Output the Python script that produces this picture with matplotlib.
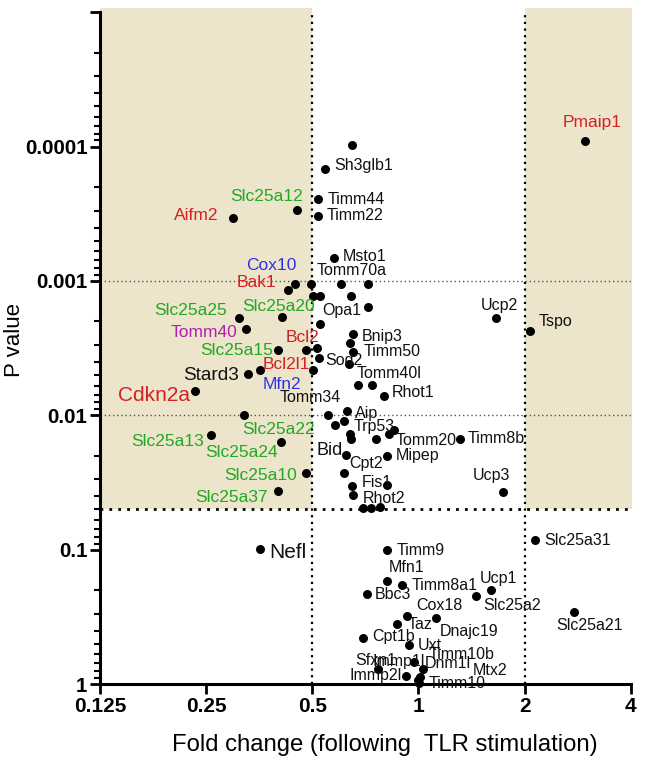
import numpy as np
import matplotlib
matplotlib.use("Agg")
import matplotlib.pyplot as plt

plt.rcParams['font.family'] = ['Liberation Sans', 'DejaVu Sans']

# fold change, p value, gene ('' = unlabelled point)
genes = ['', 'Sh3glb1', 'Timm44', 'Timm22', 'Slc25a12', 'Aifm2', 'Msto1', 'Pmaip1',
         'Cox10', 'Bak1', '', '', '', 'Tomm70a', '', '', 'Opa1', 'Slc25a20', '',
         'Slc25a25', 'Tomm40', 'Bnip3', '', 'Timm50', 'Slc25a15', 'Bcl2', '', 'Sod2', '',
         'Bcl2l1', 'Stard3', 'Mfn2', 'Cdkn2a', 'Tomm40l', '', 'Rhot1', 'Slc25a22',
         'Tomm34', 'Aip', '', 'Trp53', '', '', '', 'Tomm20', '', 'Slc25a13', 'Slc25a24',
         'Bid', 'Mipep', 'Slc25a10', 'Cpt2', 'Fis1', '', 'Slc25a37', 'Rhot2', '', '', '',
         'Ucp2', 'Tspo', 'Timm8b', 'Ucp3', 'Slc25a31', 'Timm9', 'Mfn1', 'Timm8a1', 'Bbc3',
         'Slc25a2', 'Ucp1', 'Slc25a21', 'Cox18', 'Taz', 'Dnajc19', 'Cpt1b', 'Uxt', 'Dnm1l',
         'Timm10b', 'Immp1l', 'Immp2l', '', 'Timm10', 'Mtx2', 'Nefl']
fold = [0.65, 0.543, 0.520, 0.518, 0.453, 0.298, 0.575, 2.96,
        0.446, 0.427, 0.495, 0.501, 0.527, 0.603, 0.643, 0.720, 0.720, 0.409, 0.527,
        0.310, 0.324, 0.653, 0.639, 0.653, 0.399, 0.480, 0.514, 0.523, 0.635,
        0.501, 0.328, 0.355, 0.233, 0.672, 0.736, 0.799, 0.320,
        0.554, 0.626, 0.581, 0.613, 0.639, 0.643, 0.756, 0.827, 0.853, 0.258, 0.408,
        0.622, 0.812, 0.480, 0.613, 0.650, 0.816, 0.399, 0.653, 0.696, 0.735, 0.777,
        1.657, 2.069, 1.310, 1.735, 2.142, 0.812, 0.815, 0.899, 0.713,
        1.452, 1.601, 2.763, 0.925, 0.869, 1.123, 0.696, 0.939, 0.969,
        1.027, 0.766, 0.919, 1.000, 1.005, 1.010, 0.356]
pval = [9.8e-5, 1.48e-4, 2.47e-4, 3.27e-4, 2.95e-4, 3.37e-4, 6.7e-4, 9.1e-5,
        1.05e-3, 1.17e-3, 1.05e-3, 1.29e-3, 1.29e-3, 1.05e-3, 1.30e-3, 1.05e-3, 1.57e-3, 1.87e-3, 2.09e-3,
        1.89e-3, 2.28e-3, 2.49e-3, 2.90e-3, 3.39e-3, 3.27e-3, 3.27e-3, 3.18e-3, 3.76e-3, 4.16e-3,
        4.56e-3, 4.89e-3, 4.56e-3, 6.59e-3, 5.94e-3, 5.94e-3, 7.15e-3, 9.95e-3,
        0.0100, 9.25e-3, 0.0119, 0.0110, 0.0137, 0.0149, 0.0149, 0.0137, 0.0129, 0.0139, 0.0159,
        0.0198, 0.0200, 0.0269, 0.0269, 0.0338, 0.0330, 0.0367, 0.0391, 0.0490, 0.0490, 0.0480,
        1.89e-3, 2.37e-3, 0.0149, 0.0371, 0.0842, 0.100, 0.170, 0.183, 0.212,
        0.220, 0.200, 0.292, 0.313, 0.355, 0.322, 0.451, 0.512, 0.689,
        0.773, 0.773, 0.867, 0.934, 0.988, 0.882, 0.099]

x_ticks = [0.125, 0.25, 0.5, 1, 2, 4]
x_ticklabels = ['0.125', '0.25', '0.5', '1', '2', '4']
y_ticks = [1, 0.1, 0.01, 0.001, 0.0001]
y_ticklabels = ['1', '0.1', '0.01', '0.001', '0.0001']

green = ['Slc25a12', 'Slc25a25', 'Slc25a20', 'Slc25a15', 'Slc25a22', 'Slc25a13',
         'Slc25a24', 'Slc25a10', 'Slc25a37']
red = ['Aifm2', 'Bak1', 'Bcl2', 'Bcl2l1', 'Cdkn2a', 'Pmaip1']
blue = ['Cox10', 'Mfn2']
purple = ['Tomm40']
big = {'Cdkn2a': 15, 'Stard3': 13.7, 'Nefl': 15, 'Bid': 13}

# label offsets in pixels (dx, dy, ha)
pos = {
    'Sh3glb1': (9, 4, 'left'), 'Timm44': (9, 0, 'left'), 'Timm22': (9, 0, 'left'),
    'Slc25a12': (6, 13, 'right'), 'Aifm2': (-15, 2, 'right'), 'Msto1': (9, 1, 'left'),
    'Pmaip1': (7, 19, 'center'), 'Tomm70a': (11, 13, 'center'), 'Cox10': (-23, 18, 'center'),
    'Bak1': (-12, 8, 'right'), 'Slc25a25': (-12, 8, 'right'), 'Slc25a20': (-3, 11, 'center'),
    'Opa1': (-7, -3, 'right'), 'Tomm40': (-8, -3, 'right'), 'Bnip3': (9, -2, 'left'),
    'Timm50': (10, 1, 'left'), 'Bcl2': (-4, 13, 'center'), 'Slc25a15': (-5, 0, 'right'),
    'Sod2': (6, -2, 'left'), 'Bcl2l1': (-3, 5, 'right'), 'Stard3': (-9, -2, 'right'),
    'Mfn2': (22, -15, 'center'), 'Cdkn2a': (-5, -5, 'right'), 'Tomm34': (-18, 18, 'center'),
    'Tomm40l': (-1, 11, 'left'), 'Rhot1': (8, 3, 'left'), 'Aip': (8, -3, 'left'),
    'Trp53': (10, -6, 'left'), 'Tomm20': (6, -7, 'left'), 'Timm8b': (8, 0, 'left'),
    'Bid': (-3, 5, 'right'), 'Cpt2': (6, 10, 'left'), 'Mipep': (9, 0, 'left'),
    'Ucp3': (-11, 16, 'center'), 'Fis1': (9, 4, 'left'), 'Rhot2': (10, -4, 'left'),
    'Slc25a22': (-2, -14, 'left'), 'Slc25a13': (-7, -7, 'right'),
    'Slc25a24': (-3, -10, 'right'), 'Slc25a10': (-9, -2, 'right'),
    'Slc25a37': (-10, -6, 'right'), 'Ucp2': (4, 13, 'center'), 'Tspo': (9, 10, 'left'),
    'Slc25a31': (9, -1, 'left'), 'Timm9': (10, -1, 'left'), 'Mfn1': (19, 13, 'center'),
    'Timm8a1': (9, -1, 'left'), 'Bbc3': (8, -1, 'left'), 'Ucp1': (8, 12, 'center'),
    'Slc25a2': (8, -10, 'left'), 'Slc25a21': (15, -13, 'center'), 'Cox18': (33, 11, 'center'),
    'Taz': (11, -1, 'left'), 'Dnajc19': (4, -14, 'left'), 'Cpt1b': (9, 1, 'left'),
    'Uxt': (9, -1, 'left'), 'Dnm1l': (11, -1, 'left'), 'Timm10b': (6, 15, 'left'),
    'Immp1l': (-5, 8, 'left'), 'Immp2l': (-4, 0, 'right'), 'Timm10': (9, 0, 'left'),
    'Mtx2': (53, 6, 'left'), 'Nefl': (9, -3, 'left'),
}
extra = [('Sfxn1', 'Immp1l', -22, 9, 'left')]

fig = plt.figure(figsize=(6.45, 7.66), dpi=100)
ax = fig.add_axes([0.155, 0.107, 0.823, 0.877])
ax.set_xscale('log', base=2)
ax.set_yscale('log')
ax.set_xlim(0.125, 4)
ax.set_ylim(1, 1e-5)

shade = '#ece5cb'
ax.fill_between([0.125, 0.5], 0.05, 9.3e-6, color=shade, lw=0, zorder=0, clip_on=False)
ax.fill_between([2, 4.03], 0.05, 9.3e-6, color=shade, lw=0, zorder=0, clip_on=False)

ax.axhline(0.001, color='#555555', ls=(0, (1, 2)), lw=1.0, zorder=1)
ax.axhline(0.01, color='#555555', ls=(0, (1, 2)), lw=1.0, zorder=1)
ax.axhline(0.05, color='black', ls=(0, (1, 2.2)), lw=2.0, zorder=1)
ax.plot([0.5, 0.5], [1, 1e-5], color='black', ls=(0, (1, 2)), lw=1.6, zorder=1)
ax.plot([2, 2], [1, 1e-5], color='black', ls=(0, (1, 2)), lw=1.6, zorder=1)

ax.scatter(fold, pval, s=42, color='black', zorder=3, clip_on=False, linewidths=0)


def color_of(g):
    if g in green:
        return '#22a822'
    if g in red:
        return '#d42020'
    if g in blue:
        return '#3030e8'
    if g in purple:
        return '#b020b0'
    return '#111111'


def size_of(g):
    if g in big:
        return big[g]
    if g in green or g in red or g in blue or g in purple:
        return 12.5
    return 11.5


for g, f, p in zip(genes, fold, pval):
    if g == '':
        continue
    dx, dy, ha = pos[g]
    ax.annotate(g, (f, p), xytext=(dx, dy), textcoords='offset pixels',
                ha=ha, va='center', fontsize=size_of(g), color=color_of(g), zorder=4,
                annotation_clip=False)

for text, anchor, dx, dy, ha in extra:
    i = genes.index(anchor)
    ax.annotate(text, (fold[i], pval[i]), xytext=(dx, dy), textcoords='offset pixels',
                ha=ha, va='center', fontsize=11.5, color='#111111', zorder=4)

for s in ['top', 'right']:
    ax.spines[s].set_visible(False)
for s in ['left', 'bottom']:
    ax.spines[s].set_linewidth(2.2)
    ax.spines[s].set_zorder(5)

ax.set_xticks(x_ticks)
ax.set_xticklabels(x_ticklabels, fontweight='bold', fontsize=15)
ax.xaxis.set_minor_locator(matplotlib.ticker.NullLocator())
ax.set_yticks(y_ticks + [1e-5])
ax.set_yticklabels(y_ticklabels + [''], fontweight='bold', fontsize=14.8)
ax.yaxis.set_minor_locator(matplotlib.ticker.LogLocator(base=10, subs=np.arange(2, 10)))
ax.yaxis.set_minor_formatter(matplotlib.ticker.NullFormatter())
ax.tick_params(axis='both', which='major', direction='out', length=7, width=2, pad=2)
ax.tick_params(axis='y', which='minor', direction='out', length=4, width=1.5)

ax.set_xlabel('Fold change (following  TLR stimulation)', fontsize=17.2)
ax.xaxis.set_label_coords(0.536, -0.074)
ax.set_ylabel('P value', fontsize=16)
ax.yaxis.set_label_coords(-0.141, 0.512)

fig.savefig('out.png', dpi=100)
